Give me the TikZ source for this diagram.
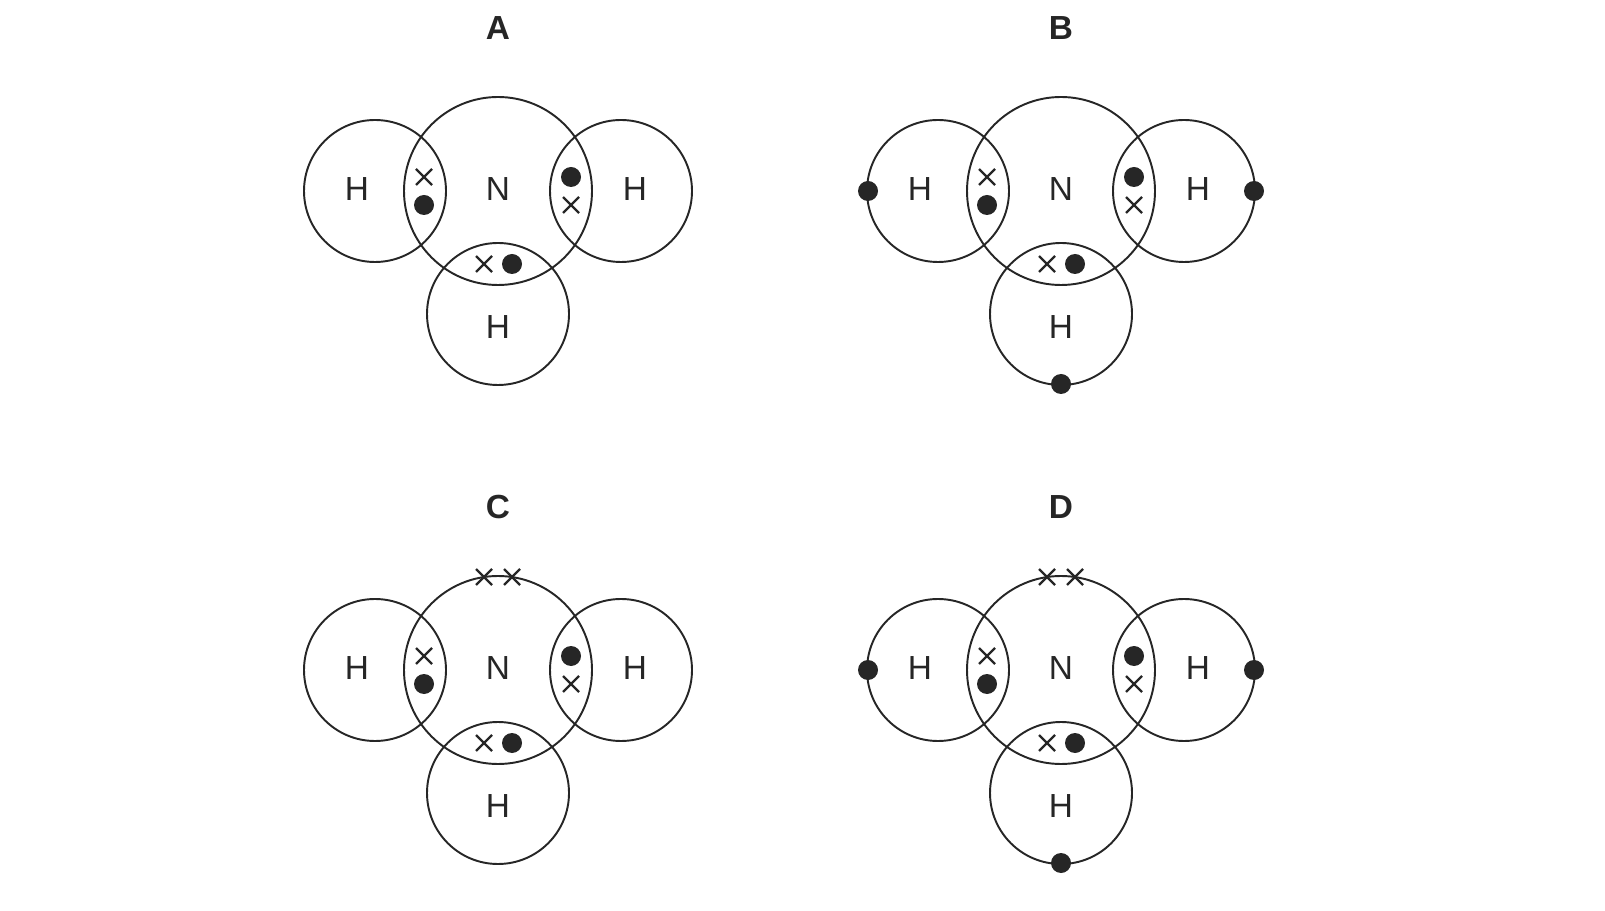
\documentclass[tikz,border=0pt]{standalone}
\usepackage{fontspec}
\setmainfont{Liberation Sans}
\begin{document}
\begin{tikzpicture}[x=0.02cm,y=-0.02cm,
  orb/.style={draw=black!85,line width=1.1pt},
  lab/.style={font=\fontsize{19}{20}\selectfont,text=black!85},
  ttl/.style={font=\bfseries\fontsize{19}{20}\selectfont,text=black!85},
  el/.style={fill=black!85,draw=none},
  xl/.style={draw=black!85,line width=1.3pt}]
\useasboundingbox (0,0) rectangle (1605,911);
\newcommand{\crs}[3]{\draw[xl] (#2-8,#3-8) coordinate (#1a) -- (#2+8,#3+8) (#2-8,#3+8) -- (#2+8,#3-8);}
\newcommand{\dt}[3]{\fill[el] (#2,#3) circle (10) coordinate (#1);}
\foreach \ox/\oy/\t/\ex/\cx in {0/0/A/0/0,563/0/B/1/0,0/479/C/0/1,563/479/D/1/1}{
  \begin{scope}[shift={(\ox,\oy)}]
  \node[ttl] (t\t) at (498,28) {\t};
  \draw[orb] (498,191) circle (94);
  \draw[orb] (375,191) circle (71);
  \draw[orb] (621,191) circle (71);
  \draw[orb] (498,314) circle (71);
  \node[lab] (n\t) at (498,189) {N};
  \node[lab] (hl\t) at (357,189) {H};
  \node[lab] (hr\t) at (635,189) {H};
  \node[lab] (hb\t) at (498,327) {H};
  \crs{x1\t}{424}{177}
  \dt{d1\t}{424}{205}
  \dt{d2\t}{571}{177}
  \crs{x2\t}{571}{205}
  \crs{x3\t}{484}{264}
  \dt{d3\t}{512}{264}
  \ifnum\ex=1
    \dt{e1\t}{305}{191}
    \dt{e2\t}{691}{191}
    \dt{e3\t}{498}{384}
  \fi
  \ifnum\cx=1
    \crs{y1\t}{484}{98}
    \crs{y2\t}{512}{98}
  \fi
  \end{scope}}
\end{tikzpicture}
\end{document}
